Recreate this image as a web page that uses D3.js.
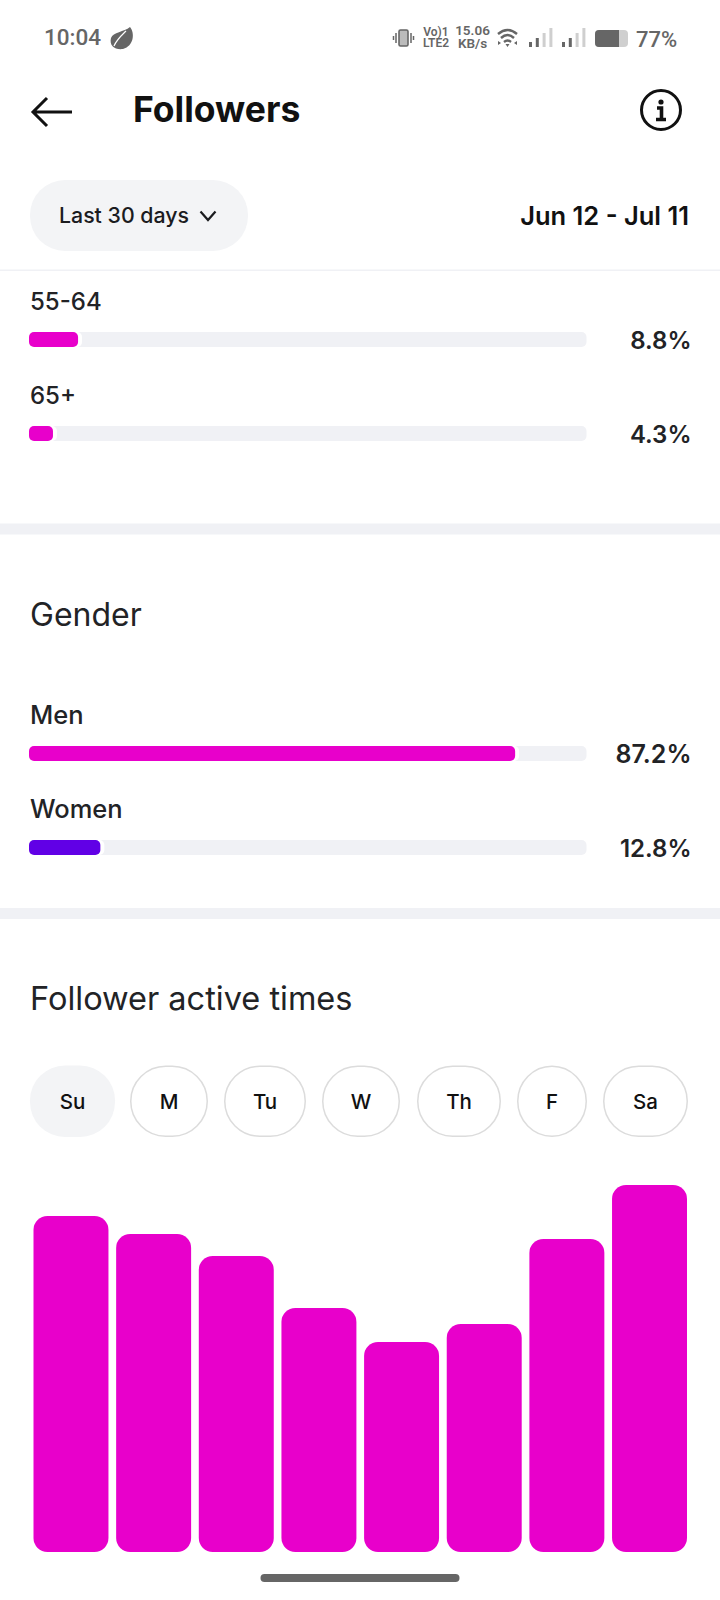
<!DOCTYPE html>
<html><head><meta charset="utf-8">
<script src="https://cdn.jsdelivr.net/npm/d3@7"></script>
<style>
html,body{margin:0;padding:0;background:#fff}
svg{display:block}
text{font-family:Inter,sans-serif}
</style></head><body>
<div id="chart"></div>
<script>
// ---- data ----
const ageLabels = ["55-64", "65+"];
const ageValues = [8.8, 4.3];
const genderLabels = ["Men", "Women"];
const genderValues = [87.2, 12.8];
const dayLabels = ["Su", "M", "Tu", "W", "Th", "F", "Sa"];
const hourLabels = ["12a", "3a", "6a", "9a", "12p", "3p", "6p", "9p"];
const hourValues = [336, 318, 296, 244, 210, 228, 313, 367];

const W = 720, H = 1600;
const MAGENTA = "#e800cb", VIOLET = "#6100e6", TRACK = "#f0f1f5", INK = "#222326";
const svg = d3.select("#chart").append("svg").attr("width", W).attr("height", H).attr("viewBox", [0, 0, W, H]);
svg.append("rect").attr("width", W).attr("height", H).attr("fill", "#fff");

function txt(s, x, y, size, weight, fill, anchor) {
  return svg.append("text").attr("x", x).attr("y", y).attr("font-size", size)
    .attr("font-weight", weight).attr("fill", fill).attr("text-anchor", anchor || "start").text(s);
}

// ---- status bar ----
const GREY = "#666";
txt("10:04", 44, 45, 22.5, 500, GREY).style("font-family", "Roboto");
svg.append("path").attr("fill", GREY)
  .attr("d", "M130 27C135 33 134 46 123 49C115 50 109 46 111 38C113 32 124 32 130 27Z");
svg.append("path").attr("stroke", "#fff").attr("stroke-width", 1.2).attr("fill", "none").attr("d", "M114 46C117 39 122 35 126 31");
// vibrate
svg.append("rect").attr("x", 399).attr("y", 30).attr("width", 9).attr("height", 16).attr("rx", 1.5).attr("fill", "#bbb").attr("stroke", GREY).attr("stroke-width", 1.6);
svg.append("path").attr("stroke", GREY).attr("stroke-width", 1.5).attr("d", "M396 33V43M411 33V43M393.500 36V40M413.500 36V40");
const small = (s, x, y, size, a) => txt(s, x, y, size, 600, GREY, a || "middle").style("font-family", "Roboto");
small("Vo)1", 436, 36, 12);
small("LTE2", 436, 47, 12);
small("15.06", 472.500, 35, 13.5);
small("KB/s", 472.500, 48, 13.5);
// wifi
svg.append("path").attr("fill", "none").attr("stroke", GREY).attr("stroke-width", 2.4)
  .attr("d", "M498 34Q507.500 26 517 34M501 38Q507.500 32 514 38M504 42Q507.500 39 511 42");
svg.append("path").attr("fill", GREY).attr("d", "M505.500 44h4l-2 3zM498 41l3 2-3 2zM517 41l-3 2 3 2z");
// signal
const sigHeights = [5, 9, 14, 19];
[529, 562].forEach(x0 => {
  sigHeights.forEach((h, i) => svg.append("rect").attr("x", x0 + i * 6.8).attr("y", 47 - h).attr("width", 3)
    .attr("height", h).attr("fill", i < 2 ? GREY : "#cfcfcf"));
});
// battery
svg.append("rect").attr("x", 595).attr("y", 30).attr("width", 33).attr("height", 17).attr("rx", 4).attr("fill", "#cfcfcf");
svg.append("path").attr("fill", GREY).attr("d", "M599 30H619V47H599Q595 47 595 43V34Q595 30 599 30Z");
txt("77%", 636, 47, 22, 500, GREY).style("font-family", "Roboto");

// ---- header ----
svg.append("path").attr("fill", "none").attr("stroke", "#111").attr("stroke-width", 3)
  .attr("d", "M72 112H33M47 98L33 112L47 126");
txt("Followers", 133, 122, 35.5, 700, "#111");
svg.append("circle").attr("cx", 661).attr("cy", 110).attr("r", 19.500).attr("fill", "none").attr("stroke", "#111").attr("stroke-width", 3);
svg.append("circle").attr("cx", 661).attr("cy", 102).attr("r", 2.6).attr("fill", "#111");
svg.append("path").attr("fill", "none").attr("stroke", "#111").attr("stroke-width", 3.6).attr("d", "M657 108H661.500V119M656 119.500H666");

svg.append("rect").attr("x", 30).attr("y", 180).attr("width", 218).attr("height", 71).attr("rx", 35).attr("fill", "#f3f4f6");
txt("Last 30 days", 59, 223, 21.3, 500, "#1b1c1f");
svg.append("path").attr("fill", "none").attr("stroke", "#1b1c1f").attr("stroke-width", 2.2).attr("d", "M200.500 211.500L208 220L215.500 211.500");
txt("Jun 12 - Jul 11", 689, 225, 25.5, 600, "#111", "end");
svg.append("rect").attr("x", 0).attr("y", 269.500).attr("width", W).attr("height", 1.5).attr("fill", TRACK);

// ---- horizontal percentage bars ----
const x = d3.scaleLinear().domain([0, 100]).range([29, 586.500]);
function rows(labels, values, labelYs, barYs, colours, labelSize, labelWeight) {
  labels.forEach((l, i) => {
    const v = values[i];
    txt(l, 30, labelYs[i], labelSize, labelWeight, INK);
    svg.append("rect").attr("x", x(0)).attr("y", barYs[i]).attr("width", x(100) - x(0)).attr("height", 15).attr("rx", 5).attr("fill", TRACK);
    svg.append("rect").attr("x", x(0)).attr("y", barYs[i]).attr("width", x(v) - x(0) + 4).attr("height", 15).attr("rx", 5).attr("fill", "#fff");
    svg.append("rect").attr("x", x(0)).attr("y", barYs[i]).attr("width", x(v) - x(0)).attr("height", 15).attr("rx", 5).attr("fill", colours[i]);
    txt(d3.format(".1f")(v) + "%", 691.500, barYs[i] + 16.500, v > 50 ? 25 : 24, 600, INK, "end");
  });
}
rows(ageLabels, ageValues, [310, 403.500], [332, 426], [MAGENTA, MAGENTA], 24, 500);
svg.append("rect").attr("x", 0).attr("y", 523.500).attr("width", W).attr("height", 11).attr("fill", TRACK);

txt("Gender", 30, 626, 32, 400, INK);
rows(genderLabels, genderValues, [724, 818], [746, 840], [MAGENTA, VIOLET], 25.5, 500);
svg.append("rect").attr("x", 0).attr("y", 908).attr("width", W).attr("height", 11).attr("fill", TRACK);

txt("Follower active times", 30, 1010, 32.5, 400, INK);

// ---- day pills ----
const pillEdges = [[30, 115], [130, 208], [224, 306], [322, 400], [417, 501], [517, 587], [603, 688]];
dayLabels.forEach((d, i) => {
  const [a, b] = pillEdges[i];
  svg.append("rect").attr("x", a + (i ? .75 : 0)).attr("y", 1065.500 + (i ? .75 : 0)).attr("width", b - a - (i ? 1.5 : 0)).attr("height", i ? 70 : 71.500)
    .attr("rx", 35).attr("fill", i ? "#fff" : "#f3f4f6").attr("stroke", i ? "#dcdcdc" : "none").attr("stroke-width", 1.5);
  txt(d, (a + b) / 2, 1109, 20.5, 500, "#111", "middle");
});

// ---- vertical bars ----
const bx = d3.scaleBand().domain(hourLabels).range([33.500, 687]).paddingInner(0.093);
const by = d3.scaleLinear().domain([0, 367]).range([1552, 1185]);
svg.append("g").selectAll("rect").data(hourValues).join("rect")
  .attr("x", (d, i) => bx(hourLabels[i])).attr("width", bx.bandwidth())
  .attr("y", d => by(d)).attr("height", d => by(0) - by(d))
  .attr("rx", 14).attr("fill", MAGENTA);

// ---- home indicator ----
svg.append("rect").attr("x", 260.500).attr("y", 1574).attr("width", 199).attr("height", 8).attr("rx", 4).attr("fill", "#666");
</script>
</body></html>
